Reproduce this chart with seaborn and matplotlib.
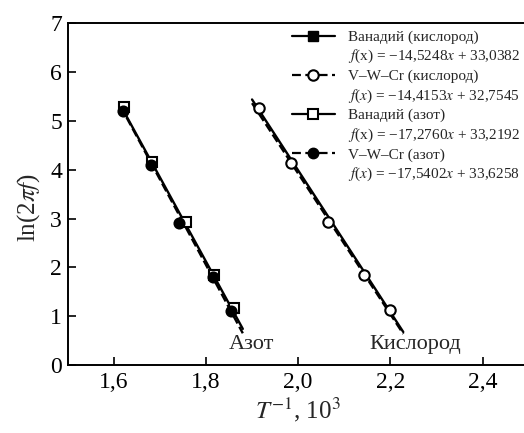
import matplotlib
matplotlib.use("Agg")
import matplotlib.pyplot as plt
import seaborn as sns
import numpy as np
import pandas as pd
from matplotlib.lines import Line2D
from matplotlib.ticker import FuncFormatter

sns.set_style("ticks")
plt.rcParams['font.family'] = ['Liberation Serif', 'DejaVu Serif']
plt.rcParams['mathtext.fontset'] = 'stix'

# ---- data ----
series_names = ["Ванадий (кислород)", "V–W–Cr (кислород)", "Ванадий (азот)", "V–W–Cr (азот)"]
fit_labels = [
    "$f$(x) = −14,5248$x$ + 33,0382",
    "$f$($x$) = −14,4153$x$ + 32,7545",
    "$f$(x) = −17,2760$x$ + 33,2192",
    "$f$($x$) = −17,5402$x$ + 33,6258",
]
slopes = [-14.5248, -14.4153, -17.2760, -17.5402]
intercepts = [33.0382, 32.7545, 33.2192, 33.6258]
fit_x_ranges = [[1.900, 2.228], [1.900, 2.228], [1.615, 1.880], [1.615, 1.880]]

vwcr_o_x = [1.916, 1.985, 2.065, 2.143, 2.200]
vwcr_o_y = [5.27, 4.14, 2.94, 1.84, 1.12]
v_n_x = [1.623, 1.682, 1.757, 1.818, 1.860]
v_n_y = [5.28, 4.15, 2.94, 1.84, 1.16]
vwcr_n_x = [1.620, 1.680, 1.741, 1.815, 1.854]
vwcr_n_y = [5.21, 4.10, 2.91, 1.80, 1.11]

x_ticks = [1.6, 1.8, 2.0, 2.2, 2.4]
y_ticks = [0, 1, 2, 3, 4, 5, 6, 7]

fig = plt.figure(figsize=(5.24, 4.33), dpi=100)
ax = fig.add_axes([0.129, 0.157, 0.88, 0.789])

styles = ["-", "--", "-", "--"]
for i in range(4):
    xs = np.array(fit_x_ranges[i])
    ys = slopes[i] * xs + intercepts[i]
    sns.lineplot(x=xs, y=ys, ax=ax, color="black", lw=1.7, linestyle=styles[i],
                 dashes=False if styles[i] == "-" else (4, 2), zorder=2)

ms = 7.5
ax.plot(v_n_x, v_n_y, linestyle="none", marker="s", ms=ms, mfc="white", mec="black", mew=1.5, zorder=3)
ax.plot(vwcr_n_x, vwcr_n_y, linestyle="none", marker="o", ms=ms, mfc="black", mec="black", mew=1.2, zorder=4)
ax.plot(vwcr_o_x, vwcr_o_y, linestyle="none", marker="o", ms=ms, mfc="white", mec="black", mew=1.5, zorder=4)

ax.set_xlim(1.5, 2.5)
ax.set_ylim(0, 7)
ax.set_xticks(x_ticks)
ax.set_yticks(y_ticks)
ax.xaxis.set_major_formatter(FuncFormatter(lambda v, p: f"{v:.1f}".replace(".", ",")))
ax.tick_params(direction="in", length=6, width=1.2, labelsize=17, colors="black")
ax.tick_params(axis="x", pad=5)
ax.tick_params(axis="y", pad=4)
for s in ax.spines.values():
    s.set_linewidth(1.4)
    s.set_color("black")

ax.set_xlabel("$T^{-1}$, 10$^3$", fontsize=18, labelpad=2)
ax.set_ylabel("ln(2$\\pi f$)", fontsize=18)
ax.yaxis.set_label_coords(-0.056, 0.46)

ax.text(1.898, 0.43, "Азот", fontsize=16, ha="center", va="center")
ax.text(2.255, 0.43, "Кислород", fontsize=16, ha="center", va="center")

blank = Line2D([], [], linestyle="none", marker=None)
h1 = Line2D([], [], color="black", lw=1.6, ls="-", marker="s", ms=ms, mfc="black", mec="black")
h2 = Line2D([], [], color="black", lw=1.6, ls=(0, (4, 2)), marker="o", ms=ms, mfc="white", mec="black", mew=1.5)
h3 = Line2D([], [], color="black", lw=1.6, ls="-", marker="s", ms=ms, mfc="white", mec="black", mew=1.5)
h4 = Line2D([], [], color="black", lw=1.6, ls=(0, (4, 2)), marker="o", ms=ms, mfc="black", mec="black")
handles, labels = [], []
for h, n, f in zip([h1, h2, h3, h4], series_names, fit_labels):
    handles += [h, blank]
    labels += [n, f]
ax.legend(handles, labels, loc="upper left", bbox_to_anchor=(0.4865, 0.98), frameon=False,
          fontsize=11.0, handlelength=2.8, handletextpad=0.85, labelspacing=0.26,
          borderpad=0, borderaxespad=0)

fig.savefig("out.png", dpi=100)
